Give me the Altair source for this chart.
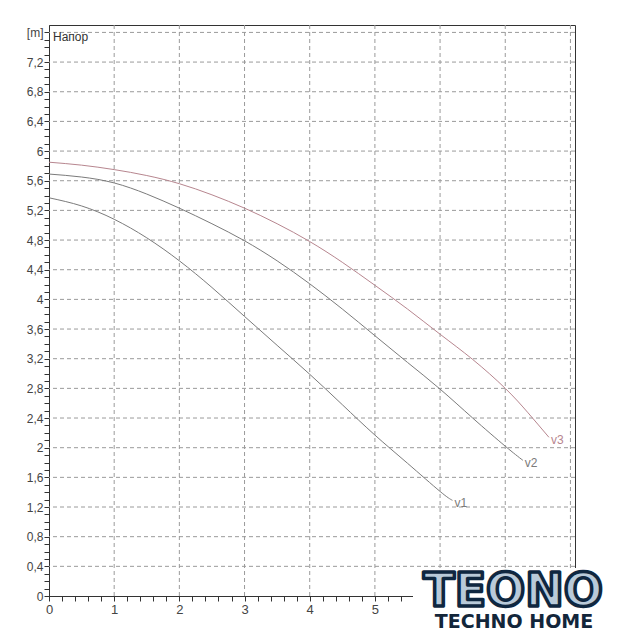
import altair as alt
import pandas as pd

# --- data ---
flow_v1 = [0, 0.5, 1, 1.5, 2, 2.5, 3, 3.5, 4, 4.5, 5, 5.5, 6, 6.19]
head_v1 = [5.37, 5.26, 5.08, 4.83, 4.52, 4.16, 3.77, 3.38, 2.99, 2.58, 2.17, 1.79, 1.41, 1.29]

flow_v2 = [0, 0.5, 1, 1.5, 2, 2.5, 3, 3.5, 4, 4.5, 5, 5.5, 6, 6.5, 7, 7.27]
head_v2 = [5.69, 5.65, 5.57, 5.42, 5.23, 5.02, 4.79, 4.52, 4.21, 3.87, 3.51, 3.15, 2.79, 2.40, 2.02, 1.83]

flow_v3 = [0, 0.5, 1, 1.5, 2, 2.5, 3, 3.5, 4, 4.5, 5, 5.5, 6, 6.5, 7, 7.35, 7.67]
head_v3 = [5.85, 5.81, 5.75, 5.67, 5.56, 5.41, 5.23, 5.02, 4.78, 4.50, 4.19, 3.87, 3.53, 3.19, 2.80, 2.47, 2.14]

series_names = ["v1", "v2", "v3"]
series_colors = ["#7b7b7b", "#7b7b7b", "#b7868f"]
label_colors = ["#7b7b7b", "#7b7b7b", "#c0708a"]

x_grid = [1, 2, 3, 4, 5, 6, 7, 8]
y_grid = [0.4, 0.8, 1.2, 1.6, 2.0, 2.4, 2.8, 3.2, 3.6, 4.0, 4.4, 4.8, 5.2, 5.6, 6.0, 6.4, 6.8, 7.2, 7.6]
x_ticks = [i / 5 for i in range(0, 41)]
y_ticks = [i / 10 for i in range(0, 77)]

X_MAX = 8.07
Y_MAX = 7.7

rows = []
for name, fx, hy in zip(series_names, [flow_v1, flow_v2, flow_v3], [head_v1, head_v2, head_v3]):
    for a, b in zip(fx, hy):
        rows.append({"series": name, "flow": a, "head": b})
df = pd.DataFrame(rows)
ends = pd.DataFrame({
    "series": series_names,
    "flow": [flow_v1[-1], flow_v2[-1], flow_v3[-1]],
    "head": [head_v1[-1], head_v2[-1], head_v3[-1]],
})

xscale = alt.Scale(domain=[0, X_MAX], nice=False, zero=False)
yscale = alt.Scale(domain=[0, Y_MAX], nice=False, zero=False)

x_axis = alt.Axis(
    values=x_ticks, grid=False, labelOverlap=False, labelFlush=False,
    labelExpr="(abs(datum.value - round(datum.value)) < 0.01 && datum.value < 5.5) ? toString(round(datum.value)) : ''",
    tickSize=5, tickColor="#333", domainColor="#333",
    labelFontSize=13, labelColor="#444", labelFont="Liberation Sans", labelPadding=2,
)
y_axis = alt.Axis(
    values=y_ticks, grid=False, labelOverlap=False, labelFlush=False,
    labelExpr="abs(datum.value - 7.6) < 0.01 ? '[m]' : (round(datum.value * 10) % 4 == 0 ? replace(toString(round(datum.value * 10) / 10), '.', ',') : '')",
    tickSize=5, tickColor="#333", domainColor="#333",
    labelFontSize=12, labelColor="#444", labelFont="Liberation Sans", labelPadding=1,
)

grid_style = dict(strokeDash=[4, 3], color="#9a9a9a", strokeWidth=1)

vgrid = alt.Chart(pd.DataFrame({"g": x_grid})).mark_rule(**grid_style).encode(
    x=alt.X("g:Q", scale=xscale, title=None, axis=x_axis)
)
hgrid = alt.Chart(pd.DataFrame({"g": y_grid})).mark_rule(**grid_style).encode(
    y=alt.Y("g:Q", scale=yscale, title=None, axis=y_axis)
)

lines = alt.Chart(df).mark_line(strokeWidth=1, interpolate="natural").encode(
    x=alt.X("flow:Q", scale=xscale, title=None, axis=x_axis),
    y=alt.Y("head:Q", scale=yscale, title=None, axis=y_axis),
    color=alt.Color("series:N", scale=alt.Scale(domain=series_names, range=series_colors), legend=None),
    detail="series:N",
)

end_labels = alt.Chart(ends).mark_text(
    align="left", baseline="middle", dx=2, dy=3, fontSize=12, font="Liberation Sans"
).encode(
    x=alt.X("flow:Q", scale=xscale, title=None, axis=x_axis),
    y=alt.Y("head:Q", scale=yscale, title=None, axis=y_axis),
    text="series:N",
    color=alt.Color("series:N", scale=alt.Scale(domain=series_names, range=label_colors), legend=None),
)

one = pd.DataFrame({"a": [0]})
title_text = alt.Chart(one).mark_text(
    align="left", baseline="middle", fontSize=12, font="Liberation Sans", color="#333"
).encode(x=alt.value(4), y=alt.value(12), text=alt.value("Напор"))

logo_bg = alt.Chart(one).mark_rect(color="white").encode(
    x=alt.value(364), x2=alt.value(570), y=alt.value(543), y2=alt.value(615)
)
logo_big = alt.Chart(one).mark_text(
    align="center", baseline="alphabetic", fontSize=46, font="DejaVu Sans", fontWeight="bold",
    fill="#b9cad9", stroke="#0f2740", strokeWidth=3.5, strokeJoin="round"
).encode(x=alt.value(464), y=alt.value(581), text=alt.value("TEONO"))
logo_small = alt.Chart(one).mark_text(
    align="center", baseline="alphabetic", fontSize=19, font="DejaVu Sans", fontWeight="bold",
    color="#13263a"
).encode(x=alt.value(465), y=alt.value(603), text=alt.value("TECHNO HOME"))

chart = alt.layer(
    vgrid, hgrid, lines, end_labels, title_text, logo_bg, logo_big, logo_small
).properties(
    width=526, height=571,
    autosize=alt.AutoSizeParams(type="none"),
    padding={"left": 41, "top": 17, "right": 34, "bottom": 36},
    background="white",
).configure_view(stroke="#333", strokeWidth=1)

chart.save("out.html", embed_options={"renderer": "svg", "actions": False})
